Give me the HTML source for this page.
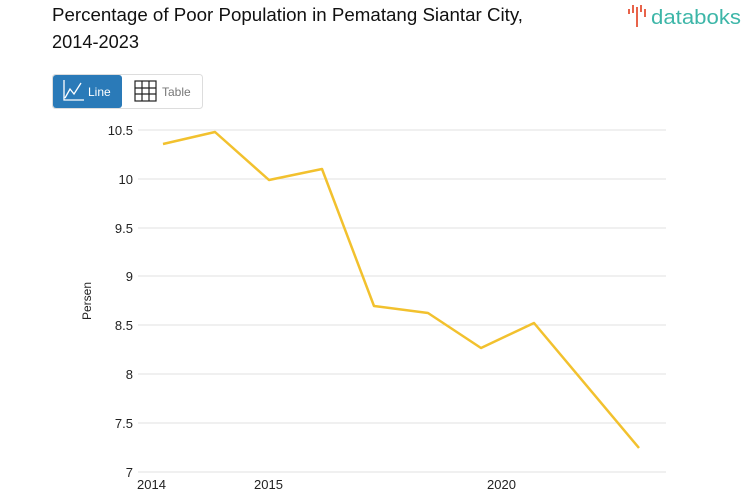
<!DOCTYPE html><html><head><style>body{margin:0;background:#fff;width:753px;height:498px;overflow:hidden;font-family:"Liberation Sans",sans-serif}</style></head><body>
<svg width="753" height="498" xmlns="http://www.w3.org/2000/svg" font-family="Liberation Sans, sans-serif">
<text x="52" y="21" font-size="18" fill="#111" textLength="471" lengthAdjust="spacingAndGlyphs">Percentage of Poor Population in Pematang Siantar City,</text>
<text x="52" y="48" font-size="18" fill="#111" textLength="87" lengthAdjust="spacingAndGlyphs">2014-2023</text>
<g fill="#e8634a"><rect x="628" y="9" width="2" height="5"/><rect x="632" y="5" width="2" height="8"/><rect x="636" y="7" width="2" height="20"/><rect x="640" y="5" width="2" height="7"/><rect x="644" y="9" width="2" height="8"/></g>
<text x="651" y="24" font-size="20" fill="#3db6a8" textLength="90" lengthAdjust="spacingAndGlyphs">databoks</text>
<rect x="52.5" y="74.5" width="150" height="34" rx="3" fill="#fff" stroke="#ddd"/>
<rect x="53" y="75" width="69" height="33" rx="3" fill="#2a7ab8"/>
<path d="M64 80v20h20M65 98l5-9 4 5 7-11" stroke="#fff" fill="none" stroke-width="1.3"/>
<text x="88" y="96" font-size="12" fill="#fff">Line</text>
<g stroke="#222" fill="none" stroke-width="1.2"><rect x="135" y="81" width="21" height="20"/><path d="M142 81v20M149 81v20M135 88h21M135 94h21"/></g>
<text x="162" y="96" font-size="12" fill="#777">Table</text>
<g stroke="#e0e0e0" stroke-width="1">
<line x1="138" x2="666" y1="130" y2="130"/><line x1="138" x2="666" y1="179" y2="179"/><line x1="138" x2="666" y1="228" y2="228"/><line x1="138" x2="666" y1="276" y2="276"/><line x1="138" x2="666" y1="325" y2="325"/><line x1="138" x2="666" y1="374" y2="374"/><line x1="138" x2="666" y1="423" y2="423"/><line x1="138" x2="666" y1="472" y2="472"/></g>
<g font-size="13" fill="#222" text-anchor="end">
<text x="133" y="135">10.5</text><text x="133" y="184">10</text><text x="133" y="233">9.5</text><text x="133" y="281">9</text><text x="133" y="330">8.5</text><text x="133" y="379">8</text><text x="133" y="428">7.5</text><text x="133" y="477">7</text></g>
<g font-size="13" fill="#222"><text x="137" y="489">2014</text><text x="254" y="489">2015</text><text x="487" y="489">2020</text></g>
<text transform="translate(91,301) rotate(-90)" font-size="12" fill="#222" text-anchor="middle">Persen</text>
<polyline points="163,144 215,132 269,180 322,169 374,306 428,313 481,348 534,323 639,448" fill="none" stroke="#f2c12e" stroke-width="2.5" stroke-linejoin="round"/>
</svg></body></html>
